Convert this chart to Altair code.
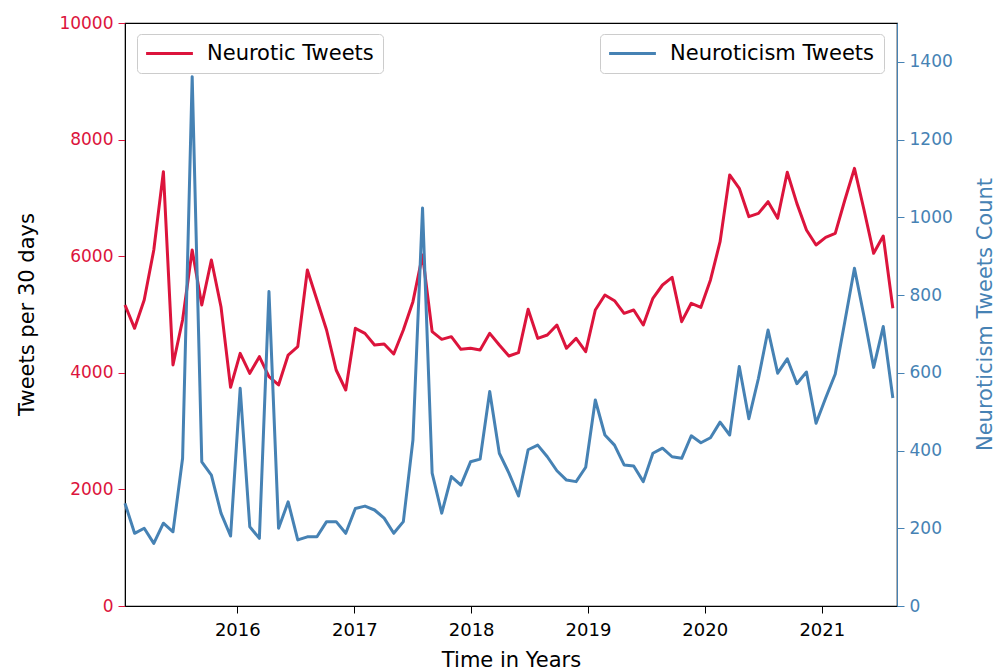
import altair as alt
import pandas as pd

# Tweet counts sampled every 30 days
start_date = "2015-01-15"
neurotic_tweets = [
    5163, 4763, 5249, 6106, 7450, 4134, 4906, 6106, 5163, 5935,
    5134, 3751, 4334, 3991, 4277, 3933, 3791, 4305, 4448, 5763,
    5249, 4734, 4048, 3705, 4763, 4677, 4477, 4494, 4322, 4734,
    5220, 6021, 4706, 4574, 4620, 4403, 4420, 4391, 4677, 4477,
    4288, 4345, 5089, 4591, 4648, 4820, 4420, 4591, 4362, 5077,
    5334, 5237, 5020, 5077, 4820, 5277, 5506, 5638, 4877, 5192,
    5123, 5592, 6249, 7393, 7165, 6678, 6735, 6935, 6650, 7440,
    6906, 6449, 6192, 6324, 6392, 6964, 7507, 6792, 6049, 6346,
    5106,
]
neuroticism_tweets = [
    264, 187, 200, 161, 213, 191, 380, 1362, 371, 337,
    239, 180, 560, 204, 174, 809, 200, 268, 170, 178,
    178, 217, 217, 187, 251, 257, 247, 226, 187, 217,
    427, 1024, 342, 239, 333, 311, 371, 378, 552, 393,
    342, 283, 402, 414, 384, 348, 324, 320, 357, 530,
    440, 414, 363, 360, 320, 393, 406, 384, 380, 438,
    420, 433, 473, 440, 616, 482, 586, 710, 599, 636,
    572, 602, 470, 535, 597, 732, 869, 745, 614, 719,
    535,
]
year_ticks = [2016, 2017, 2018, 2019, 2020, 2021]
left_ticks = [0, 2000, 4000, 6000, 8000, 10000]
right_ticks = [0, 200, 400, 600, 800, 1000, 1200, 1400]

RED = "#DC143C"
BLUE = "#4682B4"
FONT = "DejaVu Sans"

df = pd.DataFrame({
    "date": pd.date_range(start_date, periods=len(neurotic_tweets), freq="30D"),
    "neurotic": neurotic_tweets,
    "neuroticism": neuroticism_tweets,
    "s1": "Neurotic Tweets",
    "s2": "Neuroticism Tweets",
})

x_enc = alt.X(
    "date:T",
    scale=alt.Scale(domain=[alt.DateTime(year=2015, month=1, date=15),
                            alt.DateTime(year=2021, month=8, date=24)]),
    axis=alt.Axis(
        values=[alt.DateTime(year=y, month=1, date=1) for y in year_ticks],
        format="%Y", title="Time in Years", grid=False,
        labelColor="black", tickColor="black", domainColor="black",
        labelFontSize=18, titleFontSize=21, titleFontWeight="normal",
        tickSize=7, labelPadding=8, titlePadding=10, labelFlush=False,
    ),
)


def line_legend(x):
    return alt.Legend(
        orient="none", legendX=x, legendY=11, title=None,
        symbolType="M-2.6,0L2.6,0", symbolSize=324, symbolStrokeWidth=3,
        symbolOffset=13, labelOffset=27, labelFontSize=21, labelFont=FONT,
        labelColor="black", labelLimit=0, padding=9, strokeColor="#cccccc",
        fillColor="white", cornerRadius=4,
    )


neurotic_line = alt.Chart(df).mark_line(strokeWidth=3, strokeJoin="round").encode(
    x=x_enc,
    y=alt.Y(
        "neurotic:Q",
        scale=alt.Scale(domain=[0, 10000], nice=False),
        axis=alt.Axis(
            values=left_ticks, format="d", title="Tweets per 30 days", grid=False,
            labelColor=RED, tickColor=RED, domainColor="black",
            labelFontSize=17, titleFontSize=21, titleFontWeight="normal",
            titleColor="black", tickSize=7, labelPadding=5,
            titleX=-98, titleY=291, titleAngle=270, titleAlign="center",
            titleBaseline="middle",
        ),
    ),
    color=alt.Color("s1:N", scale=alt.Scale(range=[RED]), legend=line_legend(12)),
)

neuroticism_line = alt.Chart(df).mark_line(strokeWidth=3, strokeJoin="round").encode(
    x=x_enc,
    y=alt.Y(
        "neuroticism:Q",
        scale=alt.Scale(domain=[0, 1500], nice=False),
        axis=alt.Axis(
            orient="right", values=right_ticks, format="d",
            title="Neuroticism Tweets Count", grid=False,
            labelColor=BLUE, tickColor=BLUE, domainColor=BLUE,
            labelFontSize=17, titleFontSize=21, titleFontWeight="normal",
            titleColor=BLUE, tickSize=7, labelPadding=5,
            titleX=88, titleY=291, titleAngle=270, titleAlign="center",
            titleBaseline="middle",
        ),
    ),
    color=alt.Color("s2:N", scale=alt.Scale(range=[BLUE]), legend=line_legend(475)),
)

chart = (
    alt.layer(neurotic_line, neuroticism_line)
    .resolve_scale(y="independent", color="independent")
    .properties(
        width=772, height=583,
        autosize=alt.AutoSizeParams(type="none"),
        padding={"left": 125, "top": 23, "right": 99, "bottom": 64},
        background="white",
    )
    .configure_view(stroke="black", strokeWidth=1.2)
    .configure_axis(labelFont=FONT, titleFont=FONT)
)

chart.save("out.html", embed_options={"renderer": "svg", "actions": False})
